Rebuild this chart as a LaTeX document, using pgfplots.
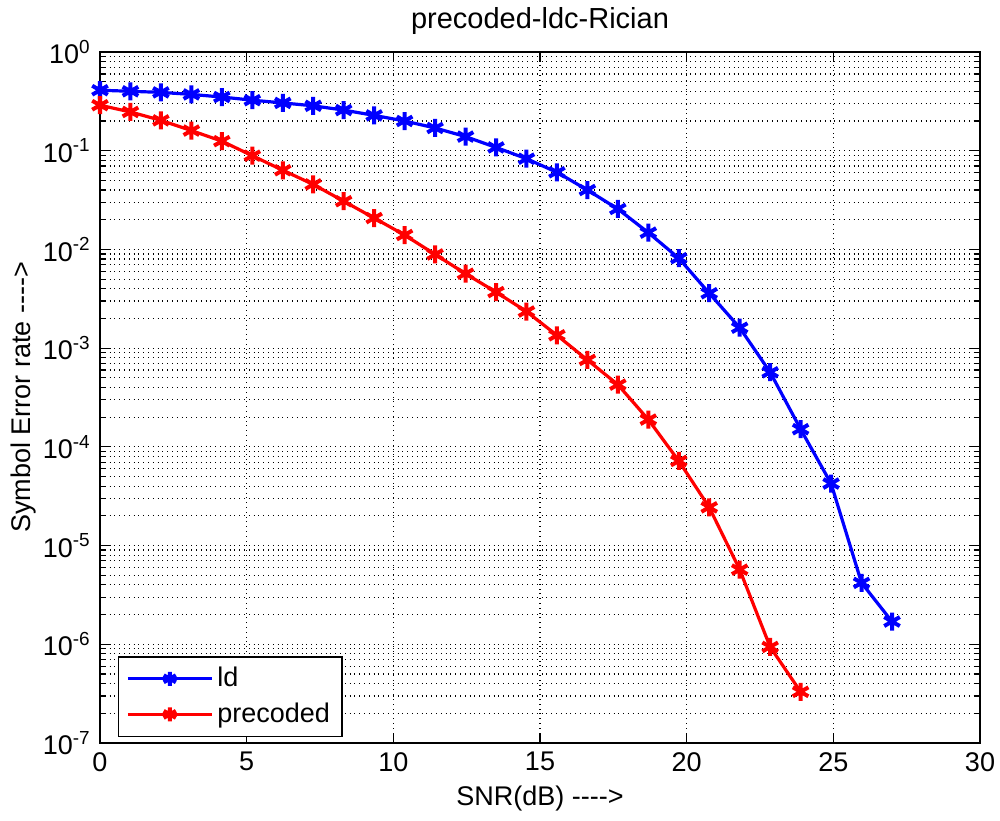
\documentclass[border=0pt]{standalone}
\usepackage{fontspec}
\setmainfont{Liberation Sans}
\usepackage{pgfplots}
\pgfplotsset{compat=1.18}
\begin{document}
\fontsize{13.5}{16}\selectfont
\begin{tikzpicture}
\begin{semilogyaxis}[
  name=ax,
  scale only axis,
  width=440pt, height=345.5pt,
  xmin=0, xmax=30, ymin=1e-7, ymax=1,
  log basis y=10,
  xtick={0,5,...,30},
  ytick={1e-7,1e-6,1e-5,1e-4,1e-3,1e-2,1e-1,1},
  minor ytick={2e-7,3e-7,4e-7,5e-7,6e-7,7e-7,8e-7,9e-7,
               2e-6,3e-6,4e-6,5e-6,6e-6,7e-6,8e-6,9e-6,
               2e-5,3e-5,4e-5,5e-5,6e-5,7e-5,8e-5,9e-5,
               2e-4,3e-4,4e-4,5e-4,6e-4,7e-4,8e-4,9e-4,
               2e-3,3e-3,4e-3,5e-3,6e-3,7e-3,8e-3,9e-3,
               2e-2,3e-2,4e-2,5e-2,6e-2,7e-2,8e-2,9e-2,
               0.2,0.3,0.4,0.5,0.6,0.7,0.8,0.9},
  /pgf/number format/assume math mode=true,
  yticklabel={\pgfmathtruncatemacro\e{round(\tick)}10\textsuperscript{\e}},
  tick align=inside,
  major tick length=5pt,
  minor tick length=2.5pt,
  xtick pos=both, ytick pos=both,
  xmajorgrids=true, ymajorgrids=true, yminorgrids=true,
  major grid style={black, dotted, line width=0.6pt},
  minor grid style={black, dotted, line width=0.6pt},
  axis line style={black, line width=0.6pt},
  tick style={black, line width=0.6pt},
  title={precoded-ldc-Rician},
  title style={yshift=-2pt, font=\fontsize{14.5}{17}\selectfont},
  xlabel={SNR(dB) -{}-{}-{}->},
  ylabel={Symbol Error rate -{}-{}-{}->},
  xlabel style={yshift=2pt},
  ylabel style={yshift=-6pt},
  legend style={at={(0.02,0.009)}, anchor=south west, draw=black, line width=0.6pt,
    font=\fontsize{13.5}{16}\selectfont, row sep=2pt, inner xsep=4pt, inner ysep=3pt},
  legend cell align=left,
  legend image code/.code={\draw[mark repeat=2,mark phase=2, mark size=3.5pt] plot coordinates {(0pt,0pt) (21pt,0pt) (42pt,0pt)};},
]
\addplot[color={rgb,255:red,0;green,0;blue,255}, line width=1.6pt, mark=asterisk, mark size=4.5pt, mark options={line width=2pt}] coordinates {
(0,0.41) (1.0385,0.40) (2.0769,0.39) (3.1154,0.372) (4.1538,0.35) (5.1923,0.325)
(6.2308,0.305) (7.2692,0.285) (8.3077,0.258) (9.3462,0.228) (10.3846,0.20)
(11.4231,0.17) (12.4615,0.139) (13.5,0.108) (14.5385,0.083) (15.5769,0.0605)
(16.6154,0.040) (17.6538,0.0257) (18.6923,0.0148) (19.7308,0.00815) (20.7692,0.0036)
(21.8077,0.00161) (22.8462,5.7e-4) (23.8846,1.51e-4) (24.9231,4.25e-5)
(25.9615,4.19e-6) (27,1.70e-6)
};
\addlegendentry{ld}
\addplot[color={rgb,255:red,255;green,0;blue,0}, line width=1.6pt, mark=asterisk, mark size=4.5pt, mark options={line width=2pt}] coordinates {
(0,0.289) (1.0385,0.247) (2.0769,0.203) (3.1154,0.160) (4.1538,0.125) (5.1923,0.089)
(6.2308,0.0634) (7.2692,0.0456) (8.3077,0.0308) (9.3462,0.0208) (10.3846,0.0140)
(11.4231,0.0089) (12.4615,0.00568) (13.5,0.0037) (14.5385,0.00235) (15.5769,0.00135)
(16.6154,7.6e-4) (17.6538,4.27e-4) (18.6923,1.89e-4) (19.7308,7.2e-5) (20.7692,2.44e-5)
(21.8077,5.7e-6) (22.8462,9.4e-7) (23.8846,3.3e-7)
};
\addlegendentry{precoded}
\end{semilogyaxis}
\pgfresetboundingbox
\path (ax.south west)++(-50pt,-39pt) coordinate (bl);
\path (ax.north east)++(10pt,26pt) coordinate (tr);
\path[use as bounding box] (bl) rectangle (tr);
\end{tikzpicture}
\end{document}
